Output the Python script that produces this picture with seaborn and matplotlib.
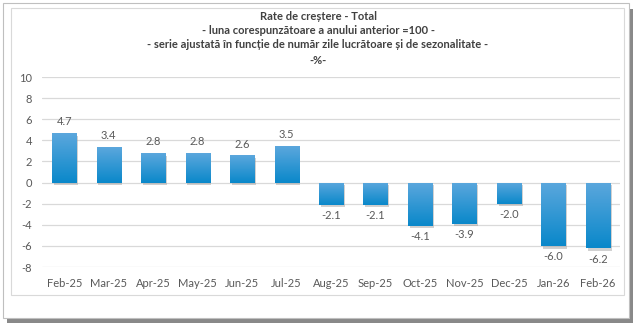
import matplotlib
matplotlib.use("Agg")
import matplotlib.pyplot as plt
import seaborn as sns
import pandas as pd
import numpy as np
from matplotlib.patches import Rectangle
from matplotlib.colors import LinearSegmentedColormap

months = ["Feb-25", "Mar-25", "Apr-25", "May-25", "Jun-25", "Jul-25", "Aug-25",
          "Sep-25", "Oct-25", "Nov-25", "Dec-25", "Jan-26", "Feb-26"]
values = [4.7, 3.4, 2.8, 2.8, 2.6, 3.5, -2.1, -2.1, -4.1, -3.9, -2.0, -6.0, -6.2]
yticks = [-8, -6, -4, -2, 0, 2, 4, 6, 8, 10]
title_lines = ["Rate de creștere - Total",
               "- luna corespunzătoare a anului anterior =100 -",
               "- serie ajustată în funcție de număr zile lucrătoare și de sezonalitate -",
               "-%-"]

sns.set_style("white")
plt.rcParams["font.family"] = ["Lato", "DejaVu Sans"]

W, H = 636, 329
fig = plt.figure(figsize=(W / 100, H / 100), dpi=100)

def px(x0, y0, x1, y1):
    return (x0 / W, 1 - y1 / H, (x1 - x0) / W, (y1 - y0) / H)

# frame with shadow
sx, sy, sw, sh = px(7, 9, 633, 323)
fig.patches.append(Rectangle((sx, sy), sw, sh, transform=fig.transFigure,
                             facecolor="#4a4a4a", edgecolor="none", alpha=0.65, zorder=0))
ox, oy, ow, oh = px(3, 3, 629, 318)
fig.patches.append(Rectangle((ox, oy), ow, oh, transform=fig.transFigure,
                             facecolor="white", edgecolor="#bfbfbf", lw=0.8, zorder=1))
ix, iy, iw, ih = px(11, 8, 624, 295)
fig.patches.append(Rectangle((ix, iy), iw, ih, transform=fig.transFigure,
                             facecolor="white", edgecolor="#d9d9d9", lw=0.8, zorder=2))

ax = fig.add_axes(px(42, 77, 620, 267))
ax.set_zorder(3)
ax.patch.set_alpha(0)

df = pd.DataFrame({"month": months, "value": values})
sns.barplot(data=df, x="month", y="value", color="#2490D2", width=0.54,
            saturation=1, ax=ax, zorder=3)

ax.set_ylim(-8, 10)
ax.set_xlim(-0.5, len(months) - 0.5)

cmap = LinearSegmentedColormap.from_list("barg", ["#0A88CA", "#5BA7DD"])
grad = np.linspace(0, 1, 64).reshape(-1, 1)
for p in list(ax.patches):
    x0, y0 = p.get_x(), p.get_y()
    w, h = p.get_width(), p.get_height()
    ylo, yhi = min(y0, y0 + h), max(y0, y0 + h)
    # shadow
    sh_rect = Rectangle((x0 + 0.04, ylo - 0.25), w, yhi - ylo, facecolor="#9a9a9a",
                        edgecolor="none", alpha=0.45, zorder=2.5)
    ax.add_patch(sh_rect)
    p.set_edgecolor("none")
    p.set_facecolor("none")
    im = ax.imshow(grad, cmap=cmap, origin="lower", aspect="auto",
                   extent=(x0, x0 + w, ylo, yhi), zorder=3, interpolation="bilinear")
    im.set_clip_path(p)

ax.set_ylim(-8, 10)
ax.set_xlim(-0.5, len(months) - 0.5)
ax.set_yticks(yticks)
ax.set_yticklabels([str(t) for t in yticks])
ax.yaxis.grid(True, color="#d9d9d9", lw=0.9)
ax.set_axisbelow(True)
for s in ax.spines.values():
    s.set_visible(False)
ax.set_xlabel("")
ax.set_ylabel("")
ax.tick_params(axis="both", length=0, labelsize=8, labelcolor="#595959")
ax.tick_params(axis="x", pad=8)
ax.tick_params(axis="y", pad=7)

for i, v in enumerate(values):
    if v >= 0:
        ax.annotate(f"{v:.1f}", (i, v), xytext=(0, 4), textcoords="offset points",
                    ha="center", va="bottom", fontsize=8, color="#595959")
    else:
        ax.annotate(f"{v:.1f}", (i, v), xytext=(0, -4), textcoords="offset points",
                    ha="center", va="top", fontsize=8, color="#595959")

ys = [17, 31, 45, 60]
for t, y in zip(title_lines, ys):
    fig.text(318 / W, 1 - y / H, t, ha="center", va="center", fontsize=8,
             fontweight="bold", color="#404040")

fig.savefig("out.png", dpi=100)
